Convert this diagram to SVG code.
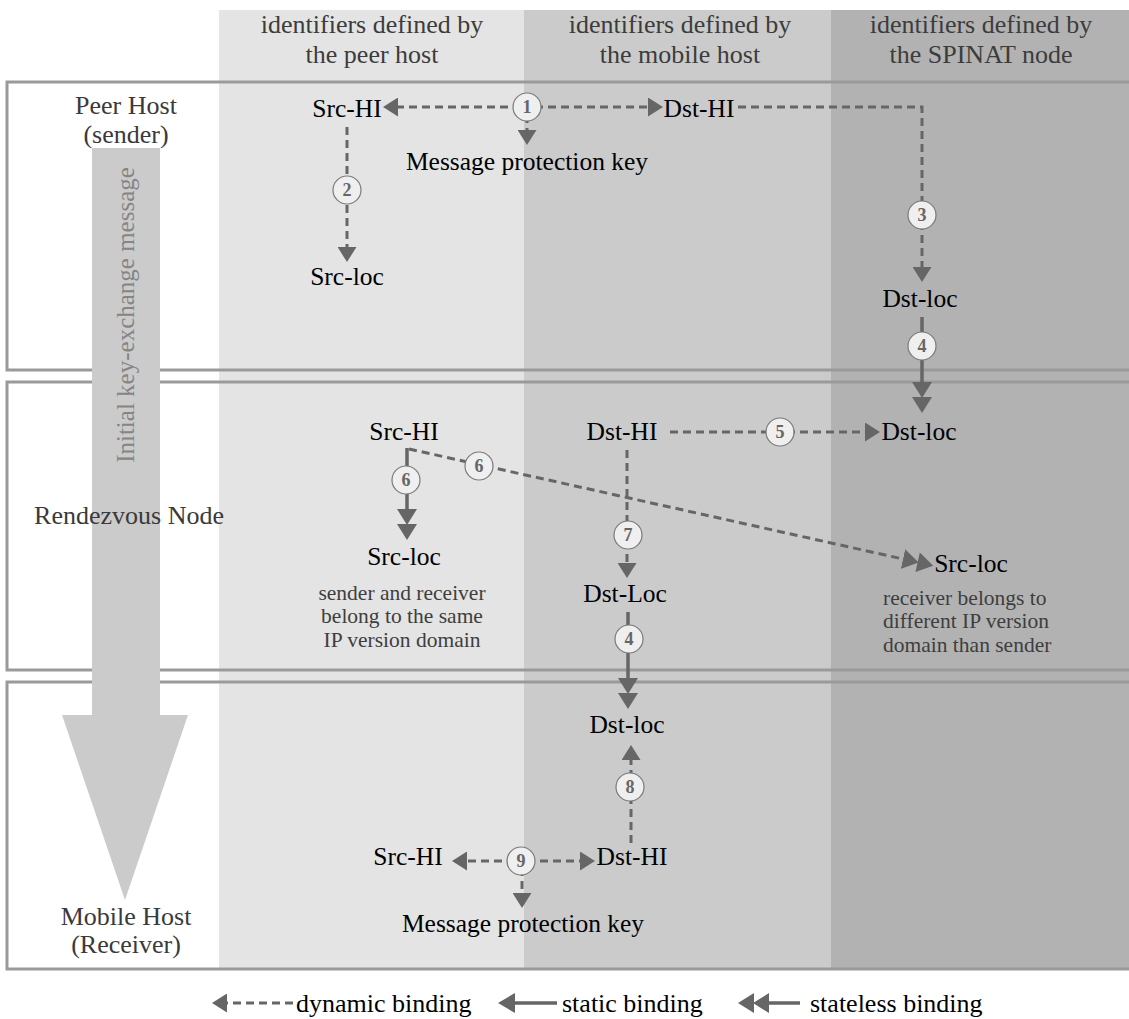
<svg xmlns="http://www.w3.org/2000/svg" width="1129" height="1019" viewBox="0 0 1129 1019">
  <style>
    .lbl { font-family: "Liberation Serif", "Times New Roman", serif; font-size: 25.5px; fill: #000; text-anchor: middle; }
    .hdr { font-family: "Liberation Serif", "Times New Roman", serif; font-size: 26px; fill: #3c3c3c; text-anchor: middle; }
    .row { font-family: "Liberation Serif", "Times New Roman", serif; font-size: 26px; fill: #3a3a3a; text-anchor: middle; }
    .note { font-family: "Liberation Serif", "Times New Roman", serif; font-size: 21.5px; fill: #3e3e3e; }
    .leg { font-family: "Liberation Serif", "Times New Roman", serif; font-size: 26px; fill: #000; }
    .num { font-family: "Liberation Serif", "Times New Roman", serif; font-size: 18px; font-weight: bold; fill: #666; text-anchor: middle; }
    .dyn { fill: none; stroke: #666; stroke-width: 3; stroke-dasharray: 8 5; }
    .sol { fill: none; stroke: #666; stroke-width: 3.5; }
    .box { fill: none; stroke: #9a9a9a; stroke-width: 3; }
    .tag { fill: #efefef; stroke: #7a7a7a; stroke-width: 1.2; }
  </style>
  <defs>
    <!-- dynamic binding head: single small triangle, base at the line end -->
    <marker id="headDyn" viewBox="0 -9.5 15 19" refX="0" refY="0" markerWidth="15" markerHeight="19" markerUnits="userSpaceOnUse" orient="auto">
      <path d="M0,-9.5 L15,0 L0,9.5 z" fill="#666"/>
    </marker>
    <!-- static binding head -->
    <marker id="headStatic" viewBox="0 -10 17 20" refX="0" refY="0" markerWidth="17" markerHeight="20" markerUnits="userSpaceOnUse" orient="auto">
      <path d="M0,-10 L17,0 L0,10 z" fill="#666"/>
    </marker>
    <!-- stateless binding head: two stacked triangles -->
    <marker id="headStateless" viewBox="0 -10 31 20" refX="0" refY="0" markerWidth="31" markerHeight="20" markerUnits="userSpaceOnUse" orient="auto">
      <path d="M0,-10 L16,0 L0,10 z M15,-10 L31,0 L15,10 z" fill="#666"/>
    </marker>
  </defs>

  <rect width="1129" height="1019" fill="#fff"/>

  <!-- identifier domain columns -->
  <g id="columns">
    <rect x="219" y="10" width="305" height="959" fill="#e4e4e4"/>
    <rect x="524" y="10" width="307" height="959" fill="#cbcbcb"/>
    <rect x="831" y="10" width="298" height="959" fill="#b2b2b2"/>
    <text class="hdr" x="372" y="33">identifiers defined by</text>
    <text class="hdr" x="372" y="63">the peer host</text>
    <text class="hdr" x="680" y="33">identifiers defined by</text>
    <text class="hdr" x="680" y="63">the mobile host</text>
    <text class="hdr" x="981" y="33">identifiers defined by</text>
    <text class="hdr" x="981" y="63">the SPINAT node</text>
  </g>

  <!-- participant rows -->
  <g id="rows">
    <rect class="box" x="7" y="82" width="1140" height="288"/>
    <rect class="box" x="7" y="382" width="1140" height="288"/>
    <rect class="box" x="7" y="682" width="1140" height="287"/>
  </g>

  <!-- message flow arrow -->
  <g id="flow-arrow">
    <path d="M92,148 L160,148 L160,715 L188,715 L125,900 L62,715 L92,715 z" fill="#cbcbcb"/>
    <text transform="translate(134,315) rotate(-90)" font-family="Liberation Serif, Times New Roman, serif" font-size="25px" fill="#858585" text-anchor="middle">Initial key-exchange message</text>
  </g>

  <g id="row-labels">
    <text class="row" x="126" y="114">Peer Host</text>
    <text class="row" x="126" y="143">(sender)</text>
    <text class="row" x="129" y="524">Rendezvous Node</text>
    <text class="row" x="126" y="925">Mobile Host</text>
    <text class="row" x="126" y="953">(Receiver)</text>
  </g>

  <g id="connectors">
    <!-- peer host row -->
    <path class="dyn" d="M521,107 L398,107" marker-end="url(#headDyn)"/>
    <path class="dyn" d="M535,107 L648,107" marker-end="url(#headDyn)"/>
    <path class="dyn" d="M527,115 L527,130" marker-end="url(#headDyn)"/>
    <path class="dyn" d="M347,127 L347,247" marker-end="url(#headDyn)"/>
    <path class="dyn" d="M738,107 L922,107 L922,267" marker-end="url(#headDyn)"/>
    <path class="sol" d="M922,317 L922,382" marker-end="url(#headStateless)"/>
    <!-- rendezvous row -->
    <path class="sol" d="M407,448 L407,509" marker-end="url(#headStateless)"/>
    <path class="dyn" d="M409,449 L903,559" marker-end="url(#headStateless)"/>
    <path class="dyn" d="M670,432 L865,432" marker-end="url(#headDyn)"/>
    <path class="dyn" d="M627,450 L627,563" marker-end="url(#headDyn)"/>
    <path class="sol" d="M628,612 L628,678" marker-end="url(#headStateless)"/>
    <!-- mobile host row -->
    <path class="dyn" d="M631,843 L631,760" marker-end="url(#headDyn)"/>
    <path class="dyn" d="M515,861 L467,861" marker-end="url(#headDyn)"/>
    <path class="dyn" d="M527,861 L580,861" marker-end="url(#headDyn)"/>
    <path class="dyn" d="M522,868 L522,893" marker-end="url(#headDyn)"/>

    <!-- binding step numbers -->
    <g id="step-1"><circle class="tag" cx="527" cy="107" r="14"/><text class="num" x="527" y="113">1</text></g>
    <g id="step-2"><circle class="tag" cx="347" cy="190" r="14"/><text class="num" x="347" y="196">2</text></g>
    <g id="step-3"><circle class="tag" cx="922" cy="215" r="14"/><text class="num" x="922" y="221">3</text></g>
    <g id="step-4a"><circle class="tag" cx="922" cy="346" r="14"/><text class="num" x="922" y="352">4</text></g>
    <g id="step-5"><circle class="tag" cx="780" cy="432" r="14"/><text class="num" x="780" y="438">5</text></g>
    <g id="step-6a"><circle class="tag" cx="406" cy="480" r="14"/><text class="num" x="406" y="486">6</text></g>
    <g id="step-6b"><circle class="tag" cx="479" cy="466" r="14"/><text class="num" x="479" y="472">6</text></g>
    <g id="step-7"><circle class="tag" cx="628" cy="535" r="14"/><text class="num" x="628" y="541">7</text></g>
    <g id="step-4b"><circle class="tag" cx="629" cy="639" r="14"/><text class="num" x="629" y="645">4</text></g>
    <g id="step-8"><circle class="tag" cx="630" cy="787" r="14"/><text class="num" x="630" y="793">8</text></g>
    <g id="step-9"><circle class="tag" cx="521" cy="861" r="14"/><text class="num" x="521" y="867">9</text></g>
  </g>

  <!-- peer host identifiers -->
  <g id="peer-src-hi"><text class="lbl" x="347" y="117">Src-HI</text></g>
  <g id="peer-dst-hi"><text class="lbl" x="699" y="117">Dst-HI</text></g>
  <g id="peer-key"><text class="lbl" x="527" y="170">Message protection key</text></g>
  <g id="peer-src-loc"><text class="lbl" x="347" y="285">Src-loc</text></g>
  <g id="peer-dst-loc"><text class="lbl" x="920" y="307">Dst-loc</text></g>

  <!-- rendezvous node identifiers -->
  <g id="rvs-src-hi"><text class="lbl" x="404" y="440">Src-HI</text></g>
  <g id="rvs-dst-hi"><text class="lbl" x="622" y="440">Dst-HI</text></g>
  <g id="rvs-dst-loc-nat"><text class="lbl" x="919" y="440">Dst-loc</text></g>
  <g id="rvs-src-loc"><text class="lbl" x="404" y="565">Src-loc</text></g>
  <g id="rvs-src-loc-nat"><text class="lbl" x="971" y="572">Src-loc</text></g>
  <g id="rvs-dst-loc"><text class="lbl" x="625" y="602">Dst-Loc</text></g>
  <g id="note-same">
    <text class="note" x="402" y="600" text-anchor="middle">sender and receiver</text>
    <text class="note" x="402" y="623" text-anchor="middle">belong to the same</text>
    <text class="note" x="402" y="647" text-anchor="middle">IP version domain</text>
  </g>
  <g id="note-different">
    <text class="note" x="883" y="605">receiver belongs to</text>
    <text class="note" x="883" y="628">different IP version</text>
    <text class="note" x="883" y="652">domain than sender</text>
  </g>

  <!-- mobile host identifiers -->
  <g id="mh-dst-loc"><text class="lbl" x="627" y="733">Dst-loc</text></g>
  <g id="mh-src-hi"><text class="lbl" x="408" y="865">Src-HI</text></g>
  <g id="mh-dst-hi"><text class="lbl" x="632" y="865">Dst-HI</text></g>
  <g id="mh-key"><text class="lbl" x="523" y="932">Message protection key</text></g>

  <!-- legend -->
  <g id="legend">
    <path class="dyn" d="M293,1003 L227,1003" marker-end="url(#headDyn)"/>
    <text class="leg" x="296" y="1012">dynamic binding</text>
    <path class="sol" d="M557,1003 L515,1003" marker-end="url(#headStatic)"/>
    <text class="leg" x="562" y="1012">static binding</text>
    <path class="sol" d="M800,1003 L769,1003" marker-end="url(#headStateless)"/>
    <text class="leg" x="810" y="1012">stateless binding</text>
  </g>
</svg>
